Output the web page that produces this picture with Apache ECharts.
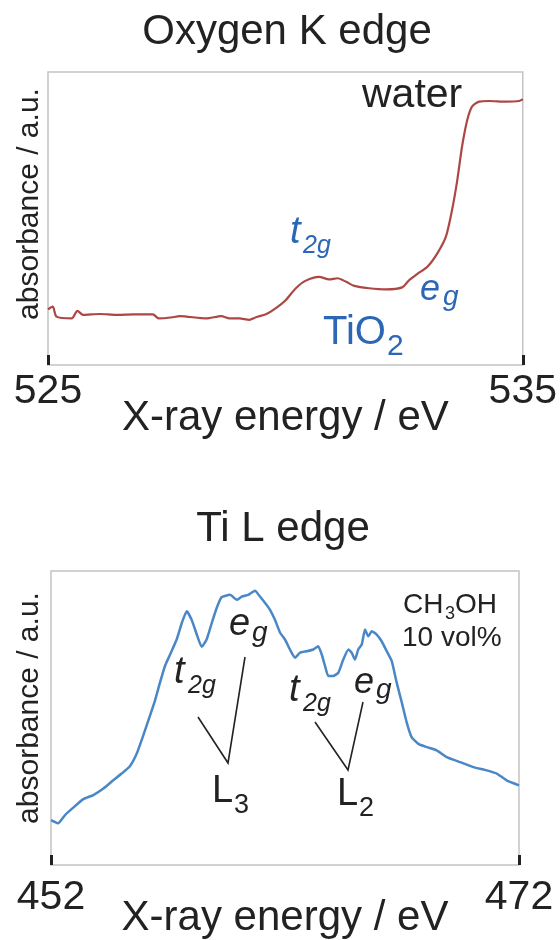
<!DOCTYPE html>
<html>
<head>
<meta charset="utf-8">
<script src="https://cdn.jsdelivr.net/npm/echarts@6/dist/echarts.min.js"></script>
<style>
  html, body { margin: 0; padding: 0; background: #fff; }
  #chart { width: 560px; height: 940px; }
</style>
</head>
<body>
<div id="chart"></div>
<script>
// O K-edge spectrum (water + TiO2)
const oxygenEnergy = [525.00,525.10,525.18,525.50,525.62,525.74,526.09,526.44,526.79,527.21,527.33,527.63,527.77,528.33,528.65,528.82,529.03,529.24,529.38,529.59,529.80,530.01,530.22,530.43,530.71,530.92,531.10,531.28,531.45,531.76,532.12,532.46,532.61,532.78,532.99,533.20,533.38,533.51,533.62,533.72,533.83,533.93,534.08,534.29,534.64,534.92,535.00];
const oxygenAbsorbance = [19.0,19.9,16.5,15.9,18.5,17.1,17.4,17.1,17.3,17.3,15.9,16.3,16.7,15.9,16.7,15.9,15.9,15.4,16.3,17.3,19.4,22.2,26.2,28.8,30.1,29.2,29.6,28.4,27.0,26.2,25.8,26.5,29.0,31.1,33.5,38.1,43.8,52.9,63.1,74.5,83.6,88.2,89.9,90.1,89.9,90.1,90.7];

// Ti L-edge spectrum (CH3OH 10 vol%)
const titaniumEnergy = [452.00,452.31,452.60,452.95,453.38,453.81,454.24,454.66,455.02,455.38,455.66,455.94,456.23,456.44,456.66,456.87,457.09,457.37,457.59,457.80,458.01,458.23,458.44,458.65,458.87,459.08,459.29,459.65,459.94,460.15,460.43,460.72,460.93,461.15,461.36,461.57,461.79,462.00,462.21,462.43,462.64,462.93,463.21,463.42,463.57,463.71,463.85,464.06,464.28,464.49,464.71,464.85,464.99,465.13,465.28,465.42,465.56,465.71,465.92,466.13,466.35,466.56,466.77,466.99,467.20,467.41,467.70,468.06,468.48,468.91,469.48,470.05,470.62,471.05,471.47,472.00];
const titaniumAbsorbance = [15.3,14.2,17.0,19.5,22.4,23.8,26.0,28.8,31.1,33.7,37.8,44.0,50.8,55.8,62.1,67.7,71.6,76.7,82.3,86.3,83.4,78.4,74.2,76.7,82.3,87.4,91.1,91.9,90.2,91.3,91.9,93.3,91.3,89.1,86.8,83.4,79.0,76.7,73.3,70.5,72.2,72.7,73.3,74.4,71.6,67.7,64.3,64.3,65.4,69.9,73.3,72.2,69.9,73.3,75.0,80.1,77.8,79.5,78.4,76.1,72.7,69.4,62.1,55.3,48.5,43.5,41.2,40.1,39.0,36.7,35.0,33.3,32.2,31.1,28.8,27.1];

const oxygenTicks = [525, 535];
const titaniumTicks = [452, 472];

const panelTitles = ['Oxygen K edge', 'Ti L edge'];
const xAxisName = 'X-ray energy / eV';
const yAxisName = 'absorbance / a.u.';

const FONT = '"Liberation Sans", Arial, Helvetica, sans-serif';
const INK = '#222222';
const BLUE = '#2c67b6';

const zip = (xs, ys) => xs.map((x, i) => [x, ys[i]]);

// text piece placed by its alphabetic baseline
function txt(x, baseline, text, size, color, italic, align) {
  return {
    type: 'text', x: x, y: baseline - 0.3465 * size, z: 20,
    style: {
      text: text, fontSize: size, fontFamily: FONT,
      fontStyle: italic ? 'italic' : 'normal',
      fill: color, align: align || 'left', verticalAlign: 'middle'
    }
  };
}
function yName(cx, cy) {
  return {
    type: 'text', x: cx, y: cy, rotation: Math.PI / 2, z: 20,
    style: { text: yAxisName, fontSize: 30, fontFamily: FONT, fill: INK, align: 'center', verticalAlign: 'middle' }
  };
}
function connector(points) {
  return { type: 'polyline', z: 20, shape: { points: points }, style: { stroke: INK, lineWidth: 1.6, fill: null } };
}

function xAxisFor(gridIndex, ticks, labelMargin) {
  return {
    type: 'value', gridIndex: gridIndex,
    min: ticks[0], max: ticks[ticks.length - 1],
    axisLine: { show: false },
    splitLine: { show: false },
    axisTick: { show: true, inside: true, length: 10, customValues: ticks, lineStyle: { color: INK, width: 3 } },
    axisLabel: { show: true, customValues: ticks, fontSize: 41, color: INK, fontFamily: FONT, margin: labelMargin },
    name: xAxisName, nameLocation: 'middle', nameGap: 32, nameMoveOverlap: false,
    nameTextStyle: { fontSize: 42, color: INK, fontFamily: FONT }
  };
}
function yAxisFor(gridIndex) {
  return { type: 'value', gridIndex: gridIndex, min: 0, max: 100, show: false };
}

const chart = echarts.init(document.getElementById('chart'), null, { renderer: 'canvas' });
chart.setOption({
  animation: false,
  backgroundColor: '#fff',
  grid: [
    { left: 48, right: 36, top: 72, height: 293, show: true, borderColor: '#c4c4c4', borderWidth: 1.5, backgroundColor: 'transparent' },
    { left: 51, right: 41, top: 571, height: 296, show: true, borderColor: '#c4c4c4', borderWidth: 1.5, backgroundColor: 'transparent' }
  ],
  xAxis: [xAxisFor(0, oxygenTicks, 6), xAxisFor(1, titaniumTicks, 12)],
  yAxis: [yAxisFor(0), yAxisFor(1)],
  series: [
    {
      type: 'line', xAxisIndex: 0, yAxisIndex: 0, showSymbol: false, smooth: 0.25,
      data: zip(oxygenEnergy, oxygenAbsorbance),
      lineStyle: { color: '#ad4744', width: 2.2 }
    },
    {
      type: 'line', xAxisIndex: 1, yAxisIndex: 1, showSymbol: false, smooth: 0.15,
      data: zip(titaniumEnergy, titaniumAbsorbance),
      lineStyle: { color: '#4a87c6', width: 2.5 }
    }
  ],
  graphic: [
    // panel titles
    txt(287, 47, panelTitles[0], 42, INK, false, 'center'),
    txt(283, 544, panelTitles[1], 42, INK, false, 'center'),
    // y-axis names
    yName(30, 204),
    yName(30, 708),
    // O K edge annotations
    txt(362, 110, 'water', 41, INK, false),
    txt(290, 246, 't', 38, BLUE, true),
    txt(303, 255, '2g', 25, BLUE, true),
    txt(420, 302, 'e', 36, BLUE, true),
    txt(443, 307, 'g', 28, BLUE, true),
    txt(323, 347, 'TiO', 40, BLUE, false),
    txt(387, 357, '2', 30, BLUE, false),
    // Ti L edge annotations
    txt(403, 615, 'CH', 28, INK, false),
    txt(445, 620, '3', 18, INK, false),
    txt(455, 615, 'OH', 28, INK, false),
    txt(402, 648, '10 vol%', 28, INK, false),
    txt(174, 686, 't', 38, INK, true),
    txt(188, 695, '2g', 25, INK, true),
    txt(229, 638, 'e', 38, INK, true),
    txt(252, 643, 'g', 28, INK, true),
    connector([[198, 717], [228, 763], [245, 657]]),
    txt(212, 805, 'L', 38, INK, false),
    txt(234, 815, '3', 27, INK, false),
    txt(289, 704, 't', 38, INK, true),
    txt(303, 713, '2g', 25, INK, true),
    txt(354, 695, 'e', 36, INK, true),
    txt(376, 700, 'g', 28, INK, true),
    connector([[315, 722], [348, 770], [363, 702]]),
    txt(337, 808, 'L', 38, INK, false),
    txt(359, 818, '2', 27, INK, false)
  ]
});
</script>
</body>
</html>
